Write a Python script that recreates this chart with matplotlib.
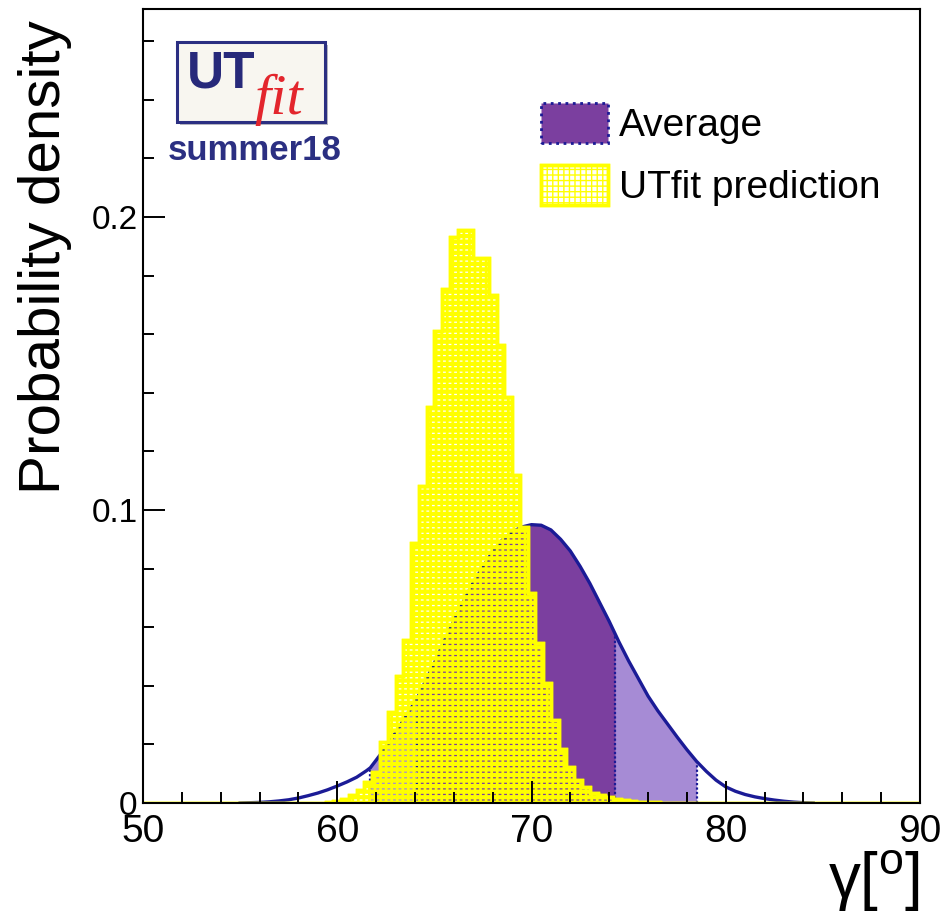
import numpy as np
import matplotlib
matplotlib.use('Agg')
import matplotlib.pyplot as plt
import matplotlib.patches as mpatches
from matplotlib.legend_handler import HandlerTuple
from matplotlib.ticker import MultipleLocator, FuncFormatter
from matplotlib import font_manager

plt.rcParams['font.family'] = ['Liberation Sans', 'DejaVu Sans']
plt.rcParams['mathtext.fontset'] = 'custom'
plt.rcParams['mathtext.rm'] = 'Liberation Sans'
plt.rcParams['mathtext.it'] = 'Liberation Sans:italic'

# Average p.d.f. of gamma
curve_x = np.array([55.0, 55.5, 56.0, 56.5, 57.0, 57.5, 58.0, 58.5, 59.0, 59.5,
                    60.0, 60.5, 61.0, 61.5, 61.7, 62.0, 62.5, 63.0, 63.5, 64.0,
                    64.1, 64.5, 65.0, 65.5, 66.0, 66.5, 67.0, 67.5, 68.0, 68.5,
                    69.0, 69.5, 70.0, 70.5, 71.0, 71.5, 72.0, 72.5, 73.0, 73.5,
                    74.0, 74.3, 74.5, 75.0, 75.5, 76.0, 76.5, 77.0, 77.5, 78.0,
                    78.5, 79.0, 79.5, 80.0, 80.5, 81.0, 81.5, 82.0, 82.5, 83.0,
                    83.5, 84.0, 84.5])
curve_y = np.array([0.0000, 0.0001, 0.0002, 0.0004, 0.0007, 0.0011, 0.0017, 0.0025, 0.0034, 0.0045,
                    0.0058, 0.0072, 0.0088, 0.0110, 0.0120, 0.0146, 0.0190, 0.0240, 0.0293, 0.0345,
                    0.0355, 0.0410, 0.0478, 0.0552, 0.0622, 0.0688, 0.0752, 0.0806, 0.0858, 0.0898,
                    0.0925, 0.0942, 0.0950, 0.0948, 0.0932, 0.0900, 0.0860, 0.0808, 0.0750, 0.0685,
                    0.0620, 0.0578, 0.0550, 0.0485, 0.0425, 0.0365, 0.0315, 0.0270, 0.0225, 0.0182,
                    0.0142, 0.0108, 0.0078, 0.0055, 0.0040, 0.0029, 0.0021, 0.0015, 0.0010, 0.0006,
                    0.0003, 0.0001, 0.0000])
interval_68 = (64.1, 74.3)
interval_95 = (61.7, 78.5)

# UTfit prediction histogram
hist_start = 59.4
hist_width = 0.4
hist_values = [0.0004, 0.0008, 0.0015,
               0.0027, 0.0044, 0.0070, 0.0105, 0.0209, 0.0311, 0.0435, 0.0557,
               0.0888, 0.1082, 0.1350, 0.1611, 0.1754, 0.1933, 0.1956, 0.1956,
               0.1859, 0.1859, 0.1734, 0.1563, 0.1385, 0.1120, 0.0943, 0.0716,
               0.0546, 0.0410, 0.0282, 0.0185, 0.0122, 0.0077, 0.0055, 0.0035,
               0.0027, 0.0019, 0.0013, 0.0009, 0.0007, 0.0005, 0.0003, 0.0002]

x_range = (50, 90)
y_max = 0.271

dark = '#7b3f9f'
light = '#a68bd5'
navy = '#1b1b96'
yellow = '#ffff00'

# narrow font for the x tick labels if it is there
font_names = {f.name for f in font_manager.fontManager.ttflist}
if 'Liberation Sans Narrow' in font_names:
    xtick_font, xtick_size = 'Liberation Sans Narrow', 34
else:
    xtick_font, xtick_size = 'Liberation Sans', 28

fig = plt.figure(figsize=(9.42, 9.16), dpi=100)
ax = fig.add_axes([143/942, 113/916, 777/942, 794/916])

# Average: 95% and 68% regions, then the curve
in95 = (curve_x >= interval_95[0]) & (curve_x <= interval_95[1])
in68 = (curve_x >= interval_68[0]) & (curve_x <= interval_68[1])
ax.fill_between(curve_x, curve_y, where=in95, color=light, lw=0, zorder=1)
ax.fill_between(curve_x, curve_y, where=in68, color=dark, lw=0, zorder=1.1)
for b in list(interval_95) + list(interval_68):
    yb = curve_y[np.isclose(curve_x, b)][0]
    ax.vlines(b, 0, yb, colors=navy, linestyles=(0, (1, 1)), lw=1.6, zorder=1.2)
ax.plot(curve_x, curve_y, color=navy, lw=2.4, zorder=1.5)

# UTfit prediction: yellow pattern (horizontal + vertical hatch, open holes)
n = len(hist_values)
edges = np.concatenate([[x_range[0]], hist_start + hist_width*np.arange(n+1), [x_range[1]]])
vals = np.concatenate([[0], hist_values, [0]])
h1 = ax.stairs(vals, edges, fill=True, facecolor='none', edgecolor=yellow,
               hatch='---', lw=2.5, zorder=2)
h2 = ax.stairs(vals, edges, fill=True, facecolor='none', edgecolor=yellow,
               hatch='|||', lw=2.5, zorder=2)
if hasattr(h1, 'set_hatch_linewidth'):
    h1.set_hatch_linewidth(3.1)
    h2.set_hatch_linewidth(2.0)
else:
    plt.rcParams['hatch.linewidth'] = 2.6

# Axes styling
ax.set_xlim(*x_range)
ax.set_ylim(0, y_max)
ax.set_axisbelow(False)
for s in ax.spines.values():
    s.set_linewidth(1.5)
ax.xaxis.set_major_locator(MultipleLocator(10))
ax.xaxis.set_minor_locator(MultipleLocator(2))
ax.yaxis.set_major_locator(MultipleLocator(0.1))
ax.yaxis.set_minor_locator(MultipleLocator(0.02))
ax.yaxis.set_major_formatter(FuncFormatter(lambda v, _: '0' if v == 0 else '%g' % v))
ax.tick_params(which='both', direction='in', top=False, right=False, width=1.4)
ax.tick_params(which='major', length=16)
ax.tick_params(which='minor', length=8)
ax.tick_params(axis='x', labelsize=xtick_size, pad=8, labelfontfamily=xtick_font)
ax.tick_params(axis='y', labelsize=24, pad=4)

ax.set_ylabel('Probability density', fontsize=42, loc='top')
ax.yaxis.set_label_coords(-0.092, 0.986)
ax.set_xlabel(r'γ[$^{\mathrm{o}}$]', fontsize=46, loc='right')
ax.xaxis.set_label_coords(1.0, -0.058)

# Legend
avg_patch = mpatches.Patch(facecolor=dark, edgecolor=navy, linestyle=':', lw=2)
fig.legend([avg_patch, (h1, h2)], ['Average', 'UTfit prediction'],
           handler_map={tuple: HandlerTuple(ndivide=1)},
           loc='upper left', bbox_to_anchor=(541/942, 1 - 103/916),
           frameon=False, fontsize=28, borderpad=0, borderaxespad=0,
           handlelength=1.72, handleheight=1.2, handletextpad=0.28,
           labelspacing=0.55)

# UTfit logo
fig.patches.append(mpatches.Rectangle((180/942, 1 - 125/916), 148/942, 80/916,
                                      transform=fig.transFigure, facecolor='#b8b8c0',
                                      edgecolor='none', zorder=3))
fig.patches.append(mpatches.Rectangle((177/942, 1 - 122/916), 148/942, 80/916,
                                      transform=fig.transFigure, facecolor='#f8f6f0',
                                      edgecolor='#2b2f82', lw=2.2, zorder=3.1))
fig.text(187/942, 1 - 88/916, 'UT', fontsize=37, fontweight='bold', color='#27297a',
         va='baseline', ha='left', zorder=4)
fig.text(254/942, 1 - 114/916, 'fit', fontsize=42, fontstyle='italic',
         family=['Liberation Serif', 'DejaVu Serif'], color='#e3262d',
         va='baseline', ha='left', zorder=4)
fig.text(168/942, 1 - 160/916, 'summer18', fontsize=25, fontweight='bold',
         color='#2b2f82', va='baseline', ha='left', zorder=4)

fig.savefig('out.png', dpi=100)
